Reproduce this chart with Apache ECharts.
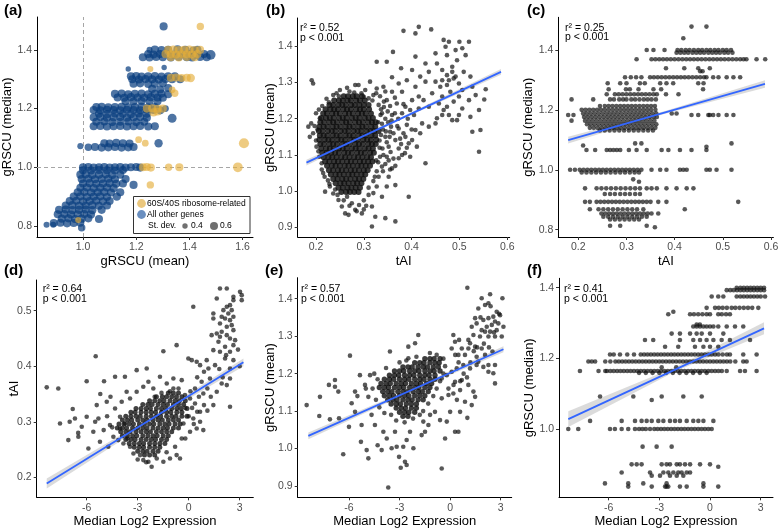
<!DOCTYPE html>
<html><head><meta charset="utf-8">
<script src="https://cdn.jsdelivr.net/npm/echarts@6/dist/echarts.min.js"></script>
<style>html,body{margin:0;padding:0;background:#fff}#c{width:778px;height:530px}</style>
</head><body><div id="c"></div>
<script>
// ---------------- tick labels ----------------
const aXTicks=[1.0,1.2,1.4,1.6], aYTicks=[0.8,1.0,1.2,1.4];
const bXTicks=[0.2,0.3,0.4,0.5,0.6], bYTicks=[0.9,1.0,1.1,1.2,1.3,1.4];
const cXTicks=[0.2,0.3,0.4,0.5,0.6], cYTicks=[0.8,1.0,1.2,1.4];
const exprTicks=[-6,-3,0,3];
const dYTicks=[0.2,0.3,0.4,0.5], eYTicks=[0.9,1.0,1.1,1.2,1.3,1.4], fYTicks=[1.0,1.2,1.4];
const stats=[null,['r² = 0.52','p < 0.001'],['r² = 0.25','p < 0.001'],['r² = 0.64','p < 0.001'],['r² = 0.57','p < 0.001'],['r² = 0.41','p < 0.001']];

// ---------------- panel (a): [mean, median, st.dev] ----------------
const aBlue=[
[1.303,1.48],[1.48,1.383,0.72],
[1.25,1.40,0.45],[1.27,1.401],[1.295,1.399],[1.32,1.40],[1.355,1.402],[1.385,1.40],[1.415,1.398],[1.43,1.40],
[1.245,1.386],[1.265,1.384],[1.29,1.386],[1.315,1.385],[1.34,1.384],[1.37,1.386],[1.40,1.385],[1.425,1.384],[1.455,1.386,0.6],
[1.225,1.375],[1.25,1.374],[1.275,1.376],[1.30,1.375],[1.33,1.374],[1.36,1.376],[1.39,1.375],[1.41,1.374],[1.44,1.376,0.6],[1.465,1.375],
[1.17,1.335,0.4],[1.305,1.34,0.4],
[1.18,1.31],[1.20,1.311],[1.22,1.309],[1.245,1.31],[1.27,1.311],[1.295,1.309],[1.32,1.31],[1.345,1.31],
[1.185,1.30],[1.21,1.299],[1.235,1.301],[1.26,1.30],[1.285,1.299],[1.31,1.301],[1.335,1.30],[1.365,1.30],
[1.19,1.285],[1.215,1.286],[1.245,1.284],[1.27,1.285],[1.30,1.286],
[1.26,1.267],[1.29,1.265],[1.32,1.27,0.6],
[1.12,1.25],[1.145,1.251],[1.17,1.249],[1.195,1.25],[1.22,1.251],[1.245,1.249],[1.27,1.25],[1.295,1.251],[1.32,1.249],
[1.13,1.238],[1.155,1.237],[1.18,1.239],[1.205,1.238],[1.23,1.237],[1.255,1.239],[1.28,1.238],[1.30,1.237],
[1.16,1.225],[1.19,1.224],[1.22,1.226],[1.25,1.225],[1.28,1.225],
[1.05,1.205],[1.07,1.206],[1.095,1.204],[1.12,1.205],[1.145,1.206],[1.17,1.204],[1.195,1.205],[1.22,1.206],[1.245,1.204],[1.27,1.205],
[1.04,1.195],[1.065,1.194],[1.09,1.196],[1.115,1.195],[1.14,1.194],[1.165,1.196],[1.19,1.195],[1.215,1.194],[1.24,1.196],[1.265,1.195],[1.29,1.194],
[1.06,1.182],[1.09,1.181],[1.12,1.183],[1.15,1.182],[1.18,1.181],[1.21,1.183],[1.24,1.182],
[1.04,1.17],[1.065,1.171],[1.09,1.169],[1.115,1.17],[1.14,1.171],[1.165,1.169],[1.19,1.17],[1.215,1.171],[1.24,1.169],
[1.05,1.155],[1.08,1.156],[1.11,1.154],[1.14,1.155],[1.17,1.156],[1.20,1.154],[1.23,1.155],
[1.04,1.14],[1.065,1.141],[1.09,1.139],[1.115,1.14],[1.14,1.141],[1.165,1.139],[1.19,1.14],[1.215,1.141,0.6],[1.245,1.139],[1.27,1.14],
[1.335,1.167,0.66],[1.31,1.20,0.5],
[1.08,1.082],[1.10,1.081],[1.125,1.083],[1.15,1.082],[1.175,1.081],
[1.02,1.068,0.55],[1.045,1.069],[1.07,1.067],[1.095,1.068],[1.12,1.069],[1.145,1.067],[1.17,1.068],[1.19,1.069],
[0.99,1.072,0.45],[1.284,1.082,0.62],
[1.0,1.0],[1.02,1.001],[1.04,0.999],[1.06,1.0],[1.08,1.001],[1.10,0.999],[1.12,1.0],[1.14,1.001],[1.16,0.999],[1.18,1.0],[1.20,1.001],[1.215,0.999],
[1.0,0.99],[1.03,0.989],[1.06,0.991],[1.09,0.99],[1.12,0.989],[1.15,0.991],
[0.99,0.975],[1.01,0.976],[1.035,0.974],[1.06,0.975],[1.085,0.976],[1.11,0.974],[1.14,0.975],
[0.995,0.96],[1.02,0.961],[1.045,0.959],[1.07,0.96],[1.095,0.961],[1.12,0.959],[1.16,0.96],
[1.0,0.945],[1.025,0.946],[1.05,0.944],[1.075,0.945],[1.10,0.946],[1.125,0.944],[1.15,0.945],[1.19,0.94,0.6],
[0.99,0.93],[1.015,0.931],[1.04,0.929],[1.065,0.93],[1.09,0.931],[1.115,0.929],
[0.98,0.915],[1.005,0.916],[1.03,0.914],[1.055,0.915],[1.08,0.916],[1.105,0.914],[1.14,0.915],
[0.965,0.90],[0.99,0.901],[1.015,0.899],[1.04,0.90],[1.065,0.901],[1.09,0.899],[1.127,0.90,0.62],
[0.95,0.885],[0.975,0.886],[1.0,0.884],[1.025,0.885],[1.05,0.886],[1.075,0.884],[1.10,0.885],
[0.935,0.87],[0.96,0.871],[0.985,0.869],[1.01,0.87],[1.035,0.871],[1.06,0.869],[1.09,0.87],
[0.91,0.855],[0.935,0.856],[0.96,0.854],[0.985,0.855],[1.01,0.856],[1.035,0.854],[1.07,0.855],
[0.905,0.84],[0.93,0.841],[0.955,0.839],[0.98,0.84],[1.005,0.841],[1.03,0.839],
[0.92,0.825],[0.945,0.826],[0.97,0.824],[0.995,0.825],[1.02,0.826],[1.06,0.824],
[0.89,0.81],[0.915,0.811],[0.94,0.809],[0.965,0.81],[0.99,0.811],
[0.863,0.804,0.45],[0.888,0.804,0.45],[0.995,0.794,0.55]
];
const aYellow=[
[1.441,1.48,0.55],
[1.32,1.40],[1.34,1.401],[1.36,1.399],[1.38,1.40],[1.40,1.401],[1.42,1.399],[1.44,1.40],
[1.31,1.386],[1.33,1.385],[1.35,1.384],[1.37,1.386],[1.39,1.385],[1.41,1.384],[1.43,1.386],
[1.33,1.375],[1.36,1.374],[1.39,1.376],[1.42,1.375],
[1.253,1.335,0.45],
[1.33,1.305],[1.35,1.306],[1.37,1.304],[1.39,1.305,0.6],[1.405,1.304,0.62],
[1.335,1.264,0.5],[1.345,1.252,0.55],
[1.24,1.20],[1.26,1.201],[1.28,1.199],[1.30,1.20,0.6],[1.265,1.187],[1.28,1.19],
[1.209,1.094,0.5],[1.234,1.082,0.5],[1.605,1.082,0.75],
[1.225,1.0],[1.24,1.001],[1.255,0.999],[1.322,1.0,0.55],[1.362,1.0,0.6],[1.582,1.0,0.72],
[1.253,0.94,0.55],[0.982,0.82,0.45]
];

// ---------------- panel (b): tAI vs gRSCU mean ----------------
const bPts=[
[0.383,1.442],[0.415,1.453],[0.408,1.435],[0.441,1.446],[0.467,1.417],[0.478,1.412],[0.50,1.412],[0.52,1.412],
[0.361,1.384],[0.327,1.357],[0.348,1.357],[0.378,1.339],[0.408,1.371],[0.429,1.352],[0.45,1.38],[0.453,1.352],
[0.471,1.398],[0.474,1.375],[0.492,1.389],[0.495,1.361],[0.506,1.394],[0.513,1.375],[0.485,1.343],[0.464,1.334],
[0.436,1.329],[0.418,1.316],[0.401,1.334],[0.39,1.306],[0.359,1.314],[0.373,1.297],[0.341,1.288],[0.327,1.283],
[0.313,1.302],[0.289,1.293],[0.359,1.274],[0.38,1.274],[0.408,1.288],[0.429,1.302],[0.45,1.302],[0.464,1.306],
[0.474,1.293],[0.488,1.311],[0.499,1.297],[0.509,1.329],[0.523,1.316],[0.527,1.288],[0.534,1.265],[0.555,1.281],
[0.552,1.253],[0.52,1.251],[0.499,1.261],[0.481,1.274],[0.464,1.261],[0.443,1.27],[0.425,1.251],[0.415,1.261],
[0.401,1.251],[0.387,1.233],[0.369,1.242],[0.348,1.251],[0.331,1.238],[0.338,1.215],[0.359,1.21],[0.38,1.215],
[0.397,1.224],[0.415,1.228],[0.436,1.233],[0.457,1.242],[0.467,1.224],[0.478,1.21],[0.485,1.196],[0.495,1.196],
[0.506,1.228],[0.523,1.205],[0.541,1.224],[0.527,1.164],[0.541,1.109],[0.544,1.169],[0.45,1.187],[0.436,1.178],
[0.422,1.187],[0.408,1.169],[0.39,1.183],[0.373,1.173],[0.355,1.164],[0.345,1.15],[0.366,1.141],[0.387,1.15],
[0.401,1.141],[0.418,1.16],[0.352,1.123],[0.373,1.118],[0.394,1.132],[0.334,1.095],[0.348,1.095],[0.373,1.091],
[0.397,1.095],[0.411,1.123],[0.429,1.077],[0.338,1.068],[0.359,1.063],[0.331,1.04],[0.352,1.04],[0.327,1.013],
[0.348,1.013],[0.366,1.017],[0.394,0.985],[0.338,0.985],[0.317,0.958],[0.324,0.93],[0.345,0.926],[0.366,0.917],
[0.317,0.903],[0.296,0.939],[0.282,0.949],[0.268,0.935],[0.261,0.939],[0.275,0.967],[0.254,0.958],[0.247,0.976],
[0.236,0.994],[0.229,1.013],[0.219,0.999],[0.215,1.05],[0.212,1.077],[0.207,1.095],[0.201,1.123],[0.194,1.16],
[0.187,1.15],[0.184,1.178],[0.19,1.187],[0.208,1.201],[0.191,1.306],[0.194,1.297],[0.236,1.265],[0.25,1.279],
[0.282,1.293],[0.303,1.279],[0.31,1.256],[0.474,1.32],[0.485,1.329],[0.492,1.316],[0.478,1.306],[0.46,1.288],
[0.506,1.279],[0.488,1.247],[0.474,1.233],[0.464,1.21],[0.453,1.201],[0.499,1.21],
[0.334,1.262],[0.342,1.247],[0.336,1.226],[0.345,1.2],[0.338,1.186],[0.351,1.19],[0.34,1.17],[0.357,1.178],
[0.336,1.155],[0.348,1.135],[0.339,1.118],[0.356,1.108],[0.33,1.08],[0.345,1.075],[0.327,1.055],[0.32,1.028],
[0.31,0.99],[0.3,0.975],[0.29,0.962],[0.265,0.985],[0.245,0.99],[0.225,1.03],[0.218,1.04],[0.2,1.14],
[0.197,1.18],[0.2,1.215],[0.213,1.235],[0.222,1.255],[0.243,1.27],[0.265,1.285],[0.28,1.272],[0.295,1.27],
[0.32,1.265],[0.372,1.2],[0.383,1.16],[0.362,1.09],[0.378,1.13],[0.386,1.105],[0.355,1.235],[0.365,1.258],
[0.335,1.21],[0.342,1.232],[0.35,1.22],[0.358,1.195],[0.365,1.215],[0.37,1.18],[0.362,1.16],[0.376,1.145],
[0.354,1.15],[0.346,1.165],[0.33,1.19],[0.333,1.14],[0.341,1.1],[0.352,1.085],[0.366,1.07],[0.333,1.12],
[0.326,1.085],[0.34,1.055],[0.355,1.06],[0.323,1.04],[0.31,1.01],[0.32,0.995],[0.305,0.96],[0.285,0.945],
[0.3,0.95],[0.27,0.96],[0.258,0.975],[0.24,1.005],[0.228,1.02],[0.212,1.06],[0.205,1.11],[0.203,1.17],
[0.206,1.225],[0.227,1.245],[0.248,1.262],[0.27,1.275],[0.3,1.26],[0.318,1.25],[0.326,1.27],[0.345,1.275],
[0.392,1.2],[0.405,1.21],[0.383,1.24],[0.4,1.17],[0.39,1.12],[0.38,1.1]
];
const bCore=[
[1.262,[0.258,0.267,0.277,0.285,0.296]],
[1.250,[0.238,0.248,0.256,0.266,0.273,0.284,0.292,0.302]],
[1.238,[0.228,0.236,0.247,0.255,0.263,0.274,0.281,0.291,0.300,0.310]],
[1.226,[0.220,0.230,0.238,0.246,0.257,0.265,0.273,0.284,0.292,0.300,0.311]],
[1.214,[0.215,0.223,0.234,0.242,0.250,0.261,0.269,0.277,0.288,0.296,0.304,0.315]],
[1.202,[0.211,0.221,0.229,0.237,0.248,0.256,0.264,0.275,0.283,0.291,0.302,0.310,0.319]],
[1.190,[0.209,0.217,0.228,0.236,0.244,0.255,0.263,0.271,0.282,0.290,0.298,0.309,0.317,0.325]],
[1.178,[0.207,0.216,0.224,0.235,0.243,0.251,0.262,0.270,0.278,0.289,0.297,0.305,0.316,0.324]],
[1.166,[0.206,0.214,0.225,0.233,0.241,0.252,0.260,0.268,0.279,0.287,0.295,0.306,0.314,0.322,0.331]],
[1.154,[0.208,0.216,0.224,0.235,0.243,0.251,0.262,0.270,0.278,0.289,0.297,0.305,0.316,0.324]],
[1.142,[0.207,0.218,0.226,0.234,0.245,0.253,0.261,0.272,0.280,0.288,0.299,0.307,0.315,0.326]],
[1.130,[0.209,0.217,0.228,0.236,0.244,0.255,0.263,0.271,0.282,0.290,0.298,0.309,0.317,0.325]],
[1.118,[0.211,0.221,0.229,0.237,0.248,0.256,0.264,0.275,0.283,0.291,0.302,0.310,0.319]],
[1.106,[0.213,0.222,0.232,0.240,0.248,0.259,0.267,0.275,0.286,0.294,0.302,0.313,0.321]],
[1.094,[0.216,0.226,0.234,0.243,0.253,0.261,0.270,0.280,0.288,0.297,0.307,0.315]],
[1.082,[0.219,0.228,0.238,0.246,0.255,0.265,0.273,0.282,0.292,0.300,0.309,0.318]],
[1.070,[0.223,0.233,0.241,0.250,0.260,0.268,0.277,0.287,0.295,0.304,0.313]],
[1.058,[0.227,0.236,0.246,0.254,0.263,0.273,0.281,0.290,0.300,0.308]],
[1.046,[0.231,0.241,0.249,0.258,0.268,0.276,0.285,0.295,0.303]],
[1.034,[0.236,0.245,0.255,0.263,0.272,0.282,0.290,0.299]],
[1.022,[0.241,0.251,0.259,0.268,0.278,0.286,0.295]],
[1.010,[0.247,0.256,0.266,0.274,0.283,0.292]],
[0.998,[0.253,0.263,0.271,0.280,0.289]]
];

// ---------------- panel (c): tAI vs gRSCU median ----------------
const cRows=[
[1.478,[0.435,0.466]],
[1.439,[0.418]],
[1.400,[0.342,0.356,0.379,0.406,0.414,0.423,0.431,0.44,0.449,0.457,0.466,0.474,0.483,0.491,0.50,0.508,0.517]],
[1.391,[0.404,0.412,0.42,0.428,0.437,0.445,0.453,0.461,0.47,0.478,0.486,0.494,0.503,0.511,0.52]],
[1.369,[0.321,0.352,0.36,0.368,0.376,0.384,0.392,0.40,0.408,0.416,0.424,0.432,0.44,0.448,0.456,0.464,0.472,0.48,0.488,0.496,0.504,0.512,0.52,0.528,0.536,0.543,0.549,0.57,0.588]],
[1.339,[0.382,0.42,0.449,0.473]],
[1.329,[0.453,0.458]],
[1.309,[0.297,0.309,0.32,0.331,0.349,0.357,0.365,0.373,0.381,0.389,0.397,0.405,0.413,0.421,0.429,0.437,0.445,0.453,0.461,0.466,0.48,0.491,0.508,0.522,0.536]],
[1.289,[0.261,0.287,0.30,0.328,0.338,0.37,0.383,0.397,0.449,0.46]],
[1.269,[0.263,0.299,0.307,0.325,0.356,0.372,0.459]],
[1.252,[0.259,0.276,0.284,0.292,0.30,0.308,0.316,0.324,0.332,0.34,0.348,0.356,0.363,0.382,0.408]],
[1.235,[0.186,0.231,0.266,0.274,0.285,0.293,0.30,0.31,0.318,0.327,0.336,0.344,0.352,0.361]],
[1.213,[0.245,0.255,0.263,0.271,0.279,0.287,0.295,0.303,0.311,0.319,0.327,0.335,0.343,0.351,0.359]],
[1.200,[0.207,0.215,0.223,0.231,0.239,0.247,0.255,0.263,0.271,0.279,0.287,0.295,0.303,0.311,0.319,0.327,0.335,0.343,0.351,0.36]],
[1.188,[0.21,0.218,0.226,0.234,0.242,0.25,0.258,0.266,0.274,0.282,0.29,0.298,0.306,0.314,0.322,0.33,0.338,0.346,0.354,0.362,0.394,0.404]],
[1.183,[0.179,0.19,0.435,0.449,0.47,0.473,0.48,0.491,0.508,0.522]],
[1.176,[0.212,0.22,0.228,0.236,0.244,0.252,0.26,0.268,0.276,0.284,0.292,0.30,0.308,0.316,0.324,0.332,0.34,0.348,0.356,0.363]],
[1.164,[0.186,0.214,0.222,0.23,0.238,0.246,0.254,0.262,0.27,0.278,0.286,0.294,0.302,0.31,0.318,0.326,0.334,0.342,0.35,0.358]],
[1.152,[0.218,0.226,0.234,0.242,0.25,0.258,0.266,0.274,0.282,0.29,0.298,0.306,0.314,0.322,0.33,0.338,0.346,0.354,0.362]],
[1.140,[0.224,0.232,0.24,0.248,0.256,0.264,0.272,0.28,0.288,0.296,0.304,0.312,0.32,0.328,0.336,0.344,0.352,0.36]],
[1.131,[0.245,0.255,0.265,0.275,0.285,0.295,0.305,0.315,0.325,0.335,0.345,0.355]],
[1.088,[0.318,0.331,0.518]],
[1.081,[0.21]],
[1.077,[0.466]],
[1.066,[0.217,0.235,0.259,0.266,0.273,0.28,0.287,0.305,0.321,0.342,0.373,0.387,0.411,0.435,0.466]],
[1.000,[0.183,0.193,0.203,0.211,0.219,0.227,0.235,0.243,0.251,0.259,0.267,0.275,0.283,0.291,0.299,0.307,0.315,0.323,0.331,0.352,0.37,0.383,0.411,0.418,0.425,0.466,0.473,0.487,0.518]],
[0.991,[0.207,0.217,0.227,0.237,0.247,0.257,0.267,0.277,0.287,0.297,0.307,0.317,0.326]],
[0.968,[0.314]],
[0.960,[0.326]],
[0.938,[0.214,0.238,0.248,0.258,0.268,0.278,0.288,0.298,0.308,0.318,0.328,0.342,0.352,0.363,0.383,0.404,0.425,0.439]],
[0.919,[0.255,0.266,0.276,0.287,0.297,0.307,0.318,0.328]],
[0.893,[0.214,0.224,0.238,0.246,0.254,0.262,0.27,0.278,0.286,0.294,0.302,0.31,0.318,0.326,0.334,0.342,0.35,0.366,0.383,0.532]],
[0.868,[0.224,0.242,0.252,0.262,0.272,0.282,0.292,0.302,0.312,0.322,0.335,0.421]],
[0.854,[0.248,0.256,0.264,0.272,0.28,0.288,0.296,0.304,0.312,0.32,0.328,0.336,0.344,0.352,0.366]],
[0.843,[0.252,0.262,0.272,0.282,0.292,0.302,0.312,0.322,0.332,0.342]],
[0.834,[0.266,0.276,0.286,0.296,0.306,0.316,0.326]],
[0.813,[0.266,0.287,0.342]],
[0.808,[0.359]]
];

// ---------------- panel (d): expression vs tAI ----------------
const dPts=[
[-8.35,0.362],[-7.67,0.36],[-7.57,0.297],[-7.08,0.267],[-6.82,0.323],[-6.69,0.306],[-6.49,0.273],[-6.0,0.373],[-6.0,0.309],[-6.29,0.291],
[-5.9,0.252],[-5.61,0.282],[-5.47,0.418],[-5.41,0.33],[-5.31,0.306],[-5.22,0.264],[-4.98,0.373],[-4.82,0.336],[-4.73,0.255],[-4.63,0.294],
[-4.33,0.381],[-4.33,0.324],[-3.75,0.381],[-3.65,0.354],[-3.06,0.393],[-2.47,0.396],[-2.37,0.372],[-1.49,0.427],[-0.71,0.438],[-1.69,0.381],
[-0.9,0.378],[-0.41,0.375],[0.27,0.507],[-0.02,0.414],[0.18,0.411],[0.47,0.408],[0.67,0.402],[1.06,0.411],[1.16,0.396],[1.55,0.402],
[1.25,0.378],[0.76,0.372],[0.37,0.36],[0.86,0.351],[1.45,0.429],[1.75,0.444],[1.84,0.426],[2.14,0.414],[2.43,0.396],[2.63,0.411],
[1.94,0.369],[2.24,0.366],[2.43,0.327],[2.43,0.378],[1.65,0.354],[1.45,0.33],[0.67,0.318],[0.67,0.3],[0.86,0.285],[0.47,0.288],
[0.08,0.282],[0.27,0.306],[-0.31,0.297],[-0.41,0.27],[-0.51,0.234],[-0.71,0.24],[-1.1,0.234],[-1.49,0.228],[-1.88,0.234],[-2.18,0.219],
[-2.37,0.228],[-2.67,0.231],[-2.86,0.24],[-3.25,0.243],[-3.45,0.255],[-3.84,0.261],[-4.14,0.267],[-4.43,0.273],[-4.04,0.288],[-3.75,0.297],
[-4.04,0.309],[-3.94,0.336],[-3.45,0.342],[-3.06,0.354],[-2.67,0.363],[-2.08,0.36],[-1.29,0.369],[-0.9,0.36],[-0.22,0.348],[0.08,0.342],[0.37,0.333],
[1.84,0.54],[2.24,0.54],[2.63,0.525],[3.02,0.534],[3.12,0.528],[3.12,0.519],[2.63,0.519],[2.43,0.51],[2.24,0.507],[2.04,0.501],
[2.33,0.495],[2.53,0.501],[1.94,0.489],[2.14,0.486],[2.43,0.483],[2.63,0.489],[1.84,0.477],[2.24,0.471],[2.53,0.474],[1.45,0.495],
[1.45,0.486],[1.35,0.456],[1.65,0.459],[1.94,0.462],[2.24,0.456],[1.84,0.453],[2.43,0.45],[2.63,0.465],[2.73,0.447],[2.14,0.435],
[2.63,0.438],[2.43,0.426],[1.65,0.522],
[0.5,0.38],[0.9,0.39],[1.1,0.36],[1.3,0.345],[0.2,0.325],[0.5,0.318],[0.9,0.33],[1.1,0.32],[0.3,0.296],[0.0,0.31],
[-0.2,0.325],[0.1,0.355],[-0.6,0.36],[-1.1,0.355],[-1.6,0.352],[-2.0,0.345],[0.6,0.345],[1.8,0.395],[2.0,0.38],[2.2,0.42],
[2.9,0.43],[3.0,0.40],[-0.2,0.27],[-0.8,0.255],[-1.3,0.245],[-2.5,0.227],[-3.0,0.232],[-3.6,0.27],[-4.5,0.29],[-4.8,0.31],
[-5.0,0.285],[-5.5,0.3],[-4.6,0.345],[-5.2,0.35],[-6.5,0.28],[-7.0,0.3]
];
const dCore=[
[0.352,[-1.2,-0.9,-0.6]],
[0.345,[-1.9,-1.55,-1.3,-1.0,-0.72,-0.4]],
[0.338,[-2.3,-2.0,-1.7,-1.45,-1.1,-0.8,-0.55,-0.2]],
[0.331,[-2.7,-2.4,-2.15,-1.8,-1.5,-1.25,-0.9,-0.6,-0.3]],
[0.324,[-3.1,-2.8,-2.5,-2.25,-1.9,-1.6,-1.35,-1.0,-0.7,-0.45,-0.1]],
[0.317,[-3.4,-3.15,-2.8,-2.5,-2.2,-1.95,-1.6,-1.3,-1.05,-0.7,-0.4]],
[0.310,[-3.7,-3.4,-3.1,-2.85,-2.5,-2.2,-1.9,-1.65,-1.3,-1.0,-0.75,-0.4,-0.1]],
[0.303,[-3.9,-3.6,-3.35,-3.0,-2.7,-2.45,-2.1,-1.8,-1.55,-1.2,-0.9,-0.6]],
[0.296,[-4.1,-3.8,-3.5,-3.25,-2.9,-2.6,-2.3,-2.05,-1.7,-1.4,-1.15,-0.8,-0.5]],
[0.289,[-4.2,-3.9,-3.65,-3.3,-3.0,-2.7,-2.45,-2.1,-1.8,-1.5,-1.25,-0.9,-0.6]],
[0.282,[-4.0,-3.7,-3.45,-3.1,-2.8,-2.5,-2.25,-1.9,-1.6,-1.3,-1.0]],
[0.275,[-3.9,-3.6,-3.3,-3.05,-2.7,-2.4,-2.1,-1.85,-1.5,-1.2]],
[0.268,[-3.7,-3.4,-3.15,-2.8,-2.5,-2.2,-1.95,-1.6,-1.3]],
[0.261,[-3.5,-3.2,-2.9,-2.65,-2.3,-2.0,-1.7,-1.4]],
[0.254,[-3.2,-2.9,-2.65,-2.3,-2.0,-1.7]],
[0.247,[-3.0,-2.7,-2.45,-2.1,-1.8]],
[0.240,[-2.6,-2.3,-2.0]]
];

// ---------------- panel (e): expression vs gRSCU mean ----------------
const ePts=[
[-8.51,1.116],[-7.76,1.087],[-7.72,1.138],[-7.19,1.17],[-7.13,1.078],[-6.83,1.183],[-6.83,1.165],[-6.63,1.152],[-6.59,1.081],[-6.34,0.985],
[-6.0,1.058],[-5.94,1.248],[-5.84,1.121],[-5.64,1.152],[-5.64,1.098],[-5.35,1.196],[-5.29,1.018],[-5.25,1.063],[-5.05,1.17],[-4.95,0.996],
[-4.85,1.138],[-4.85,0.974],[-4.75,1.196],[-4.66,1.09],[-4.46,1.063],[-4.30,1.009],[-4.06,0.996],[-3.96,1.045],[-3.76,1.027],[-3.67,0.896],
[-3.57,1.259],[-3.47,1.001],[-3.27,1.045],[-3.17,1.005],[-3.03,0.978],[-2.93,0.949],[-2.78,1.005],[-2.68,0.965],[-2.58,0.956],[-2.58,1.023],
[-2.48,1.241],[-2.48,1.272],[-2.38,1.045],[-2.18,1.001],[-2.08,1.281],[-1.89,1.303],[-1.69,1.036],[-1.59,1.072],[-1.49,1.045],[-1.29,1.063],
[-1.19,1.09],[-0.9,1.098],[-0.6,1.076],[-0.5,0.947],[-0.3,1.027],[-0.2,1.072],[0.0,1.098],[0.29,1.045],[0.49,1.045],[0.59,1.098],
[0.88,1.125],[1.02,1.082],[1.28,1.116],[1.38,1.152],[1.48,1.138],[0.19,1.303],[0.09,1.267],[0.29,1.285],[0.53,1.29],[0.69,1.267],
[0.49,1.25],[0.88,1.25],[1.08,1.267],[1.18,1.281],[1.48,1.272],[1.57,1.245],[1.67,1.232],[1.97,1.218],[2.27,1.205],[2.56,1.201],
[1.87,1.267],[2.07,1.25],[1.57,1.223],[1.18,1.214],[0.78,1.223],[0.39,1.214],[0.09,1.205],[-0.2,1.196],[-0.5,1.187],[0.29,1.178],
[0.69,1.183],[1.08,1.17],[0.59,1.156],[0.19,1.147],[-0.1,1.143],[-0.5,1.134],
[1.02,1.429],[1.87,1.401],[2.37,1.412],[3.10,1.401],[2.27,1.388],[2.07,1.383],[1.67,1.374],[1.48,1.348],[1.57,1.334],[1.97,1.343],
[2.27,1.348],[2.56,1.352],[2.66,1.339],[2.96,1.356],[2.86,1.334],[2.47,1.33],[2.17,1.325],[1.87,1.316],[2.37,1.312],[2.76,1.316],
[3.06,1.299],[3.16,1.325],[2.66,1.299],[2.27,1.299],[2.07,1.312],[1.77,1.299],[1.28,1.325],[1.08,1.29],[1.38,1.303],[2.51,1.259],
[2.66,1.223],[2.66,1.174],[2.27,1.223],[2.76,1.365],
[-4.5,1.2],[-4.6,1.16],[-4.4,1.13],[-4.2,1.11],[-3.9,1.095],[-3.5,1.09],[-3.2,1.075],[-2.7,1.07],[-2.2,1.08],[-1.8,1.09],
[-1.6,1.1],[-1.3,1.12],[-1.0,1.14],[-0.8,1.16],[-0.6,1.18],[-0.4,1.2],[-0.3,1.22],[-0.4,1.24],[-0.8,1.25],[-1.2,1.255],
[-2.0,1.245],[-2.6,1.235],[-3.0,1.23],[-3.8,1.215],[-4.3,1.185],[-5.0,1.16],[-5.5,1.14],[0.3,1.25],[0.5,1.23],[0.8,1.2],
[1.0,1.19],[-0.1,1.16],[0.2,1.17],[0.4,1.13],[0.6,1.18],[1.2,1.23],[1.4,1.26],[1.6,1.27],[2.0,1.28],[2.3,1.27],
[2.6,1.31],[2.9,1.36],[2.4,1.38],[1.8,1.35]
];
const eCore=[
[1.240,[-1.5,-1.2,-0.95,-0.6]],
[1.229,[-2.1,-1.8,-1.55,-1.2,-0.9,-0.65]],
[1.218,[-2.8,-2.5,-2.25,-1.9,-1.6,-1.35,-1.0,-0.7]],
[1.207,[-3.3,-3.0,-2.75,-2.4,-2.1,-1.85,-1.5,-1.2,-0.95,-0.6]],
[1.196,[-3.6,-3.3,-3.05,-2.7,-2.4,-2.15,-1.8,-1.5,-1.25,-0.9]],
[1.185,[-3.9,-3.6,-3.35,-3.0,-2.7,-2.45,-2.1,-1.8,-1.55,-1.2,-0.9]],
[1.174,[-4.1,-3.8,-3.55,-3.2,-2.9,-2.65,-2.3,-2.0,-1.75,-1.4,-1.1]],
[1.163,[-4.2,-3.9,-3.65,-3.3,-3.0,-2.75,-2.4,-2.1,-1.85,-1.5,-1.2]],
[1.152,[-4.0,-3.7,-3.45,-3.1,-2.8,-2.55,-2.2,-1.9,-1.65,-1.3]],
[1.141,[-3.9,-3.6,-3.35,-3.0,-2.7,-2.45,-2.1,-1.8,-1.5]],
[1.130,[-3.7,-3.4,-3.15,-2.8,-2.5,-2.25,-1.9,-1.6]],
[1.119,[-3.5,-3.2,-2.95,-2.6,-2.3,-2.0]],
[1.108,[-3.2,-2.9,-2.65,-2.3,-2.0]],
[1.097,[-3.0,-2.7,-2.45,-2.1]],
[1.086,[-2.8,-2.5]]
];

// ---------------- panel (f): expression vs gRSCU median ----------------
const fRows=[
[1.400,[1.58,1.8,2.0,2.2,2.4,2.6,2.8,3.0,3.2]],
[1.393,[0.99,1.2,1.4,1.6,1.8,2.0,2.2,2.4,2.6,2.8,3.0,3.2]],
[1.375,[0.1,0.49,0.79,1.58,1.8,2.0,2.2,2.4,2.6,2.8,3.0,3.26]],
[1.343,[-0.2,0.3,0.52,0.75,1.0,1.28,1.5,1.75,2.0,2.25,2.5,2.86]],
[1.332,[-2.17]],
[1.325,[-2.47,-1.18,-0.95,-0.7,-0.45,-0.2,0.0,0.49,0.7,0.95,1.18]],
[1.296,[-0.79,-0.6]],
[1.290,[-0.99,-0.79,-0.59,-0.39,-0.2,0.0,0.2,0.49,0.99,1.48,1.97]],
[1.270,[-2.27,-1.78,-1.18,-0.79,-0.49,0.0,0.79]],
[1.252,[-3.85,-3.36,-1.78,-0.99,-0.59,-0.2,0.2,0.69,1.18,2.37]],
[1.233,[-2.66,-1.88,-0.89,-0.39,0.0,0.49]],
[1.211,[-5.92,-5.7,-5.33,-4.9,-4.5,-4.1,-3.9,-3.7,-3.5,-3.3,-3.1,-2.9,-2.7,-2.5,-2.3,-2.1,-1.9,-1.7,-1.5,-1.3,-1.1,-0.9,-0.7,-0.5,-0.3,-0.1,0.1,0.3,0.5,0.75,1.0,1.18,1.97,2.76]],
[1.191,[-7.2,-7.0,-6.8,-6.2,-5.9,-5.6,-5.4,-5.2,-5.0,-4.8,-4.6,-4.4,-4.2,-4.0,-3.8,-3.6,-3.4,-3.2,-3.0,-2.8,-2.6,-2.4,-2.2,-2.0,-1.8,-1.6,-1.4,-1.2,-1.0,-0.8,-0.6,-0.4,-0.2,0.0,0.2,0.4,0.6,0.8,1.0,1.2,1.5,1.97,2.17]],
[1.175,[-2.86,-2.0]],
[1.164,[-7.7,-6.6,-6.2,-6.1,-5.9,-5.7,-5.5,-5.3,-5.1,-4.9,-4.7,-4.5,-4.3,-4.1,-3.9,-3.7,-3.5,-3.3,-3.1,-2.9,-2.7,-2.5,-2.3,-2.1,-1.9,-1.7,-1.5,-1.3,-1.1,-0.9,-0.7,-0.5,-0.3,-0.1,0.1,0.3,0.5,0.7,0.99,1.78,2.07,2.76]],
[1.159,[-4.2,-3.8,-3.4,-3.0,-2.6,-2.2,-1.8,-1.4,-1.0,-0.6,-0.2]],
[1.092,[-6.51,-4.54,-2.86,-1.58,-0.49]],
[1.082,[-3.45]],
[1.023,[-7.1,-5.23,-4.44,-4.05,-3.75,-3.45,-3.06,-2.76,-2.37,-2.07,-1.78,-1.38,-0.99,-0.69,-0.39,0.2]],
[1.000,[-8.39,-7.8,-5.92,-5.63,-5.23,-4.84,-4.44,-4.2,-4.0,-3.8,-3.55,-3.3,-3.1,-2.9,-2.7,-2.5,-2.3,-2.1,-1.9,-1.7,-1.5,-1.3,-1.1,-0.9,-0.7,-0.5,-0.3,-0.1,0.1]],
[0.950,[-3.99,-3.16,-2.27]],
[0.900,[-4.64,-4.34,-4.05,-2.86,-2.57,-2.37,-1.97,-1.78,-1.48,-1.18,-0.59,0.0]],
[0.893,[0.49]],
[0.877,[-5.23,-3.55,-2.76,-2.47,-2.17,-1.88,-1.68,-1.38,-1.18]],
[0.868,[-3.45,-2.96,-2.37,-1.97,-1.58]],
[0.846,[-6.22,-4.84,-3.95,-2.57,-0.39]],
[0.837,[-4.84,-3.45,-2.66,-2.57,-2.47,-1.78,-1.38,-0.39,0.49]]
];

// ---------------- fitted lines and 95% bands ----------------
const bFitX=[0.18,0.587], bFitY=[1.079,1.329];
const bBandX=[0.18,0.38,0.587], bBandLo=[1.071,1.199,1.321], bBandHi=[1.087,1.205,1.337];
const cFitX=[0.179,0.5875], cFitY=[1.099,1.2865];
const cBandX=[0.179,0.38,0.5875], cBandLo=[1.088,1.187,1.274], cBandHi=[1.110,1.196,1.299];
const dFitX=[-8.35,3.22], dFitY=[0.189,0.407];
const dBandX=[-8.35,-2,3.22], dBandLo=[0.180,0.3048,0.400], dBandHi=[0.198,0.3124,0.414];
const eFitX=[-8.41,3.16], eFitY=[1.034,1.265];
const eBandX=[-8.41,-2,3.16], eBandLo=[1.025,1.158,1.257], eBandHi=[1.043,1.166,1.273];
const fFitX=[-8.39,3.2], fFitY=[1.028,1.285];
const fBandX=[-8.39,-2,3.2], fBandLo=[1.006,1.164,1.268], fBandHi=[1.050,1.176,1.302];

// ---------------- build ----------------
const FONT='"Liberation Sans", Arial, Helvetica, sans-serif';
function rowsToPts(rows){const o=[];rows.forEach(r=>r[1].forEach(x=>o.push([x,r[0]])));return o;}
function zip(xs,ys){return xs.map((x,i)=>[x,ys[i]]);}

const panels=[
 {g:{left:37,top:17,width:216,height:220},xr:[0.827,1.639],yr:[0.7625,1.512],xt:aXTicks,yt:aYTicks,xd:1,xn:'gRSCU (mean)',yn:'gRSCU (median)',yg:23},
 {g:{left:297.7,top:18,width:212,height:219},xr:[0.1617,0.6052],yr:[0.874,1.4774],xt:bXTicks,yt:bYTicks,xd:1,xn:'tAI',yn:'gRSCU (mean)',yg:21,
   pts:bPts,core:rowsToPts(bCore),cs:6,co:0.82,fit:[bFitX,bFitY],band:[bBandX,bBandLo,bBandHi]},
 {g:{left:558.3,top:17.3,width:215.1,height:219.7},xr:[0.1585,0.605],yr:[0.7756,1.509],xt:cXTicks,yt:cYTicks,xd:1,xn:'tAI',yn:'gRSCU (median)',yg:23,
   pts:rowsToPts(cRows),fit:[cFitX,cFitY],band:[cBandX,cBandLo,cBandHi]},
 {g:{left:36.7,top:280,width:216.6,height:217.3},xr:[-8.94,3.8],yr:[0.164,0.5553],xt:exprTicks,yt:dYTicks,xd:0,xn:'Median Log2 Expression',yn:'tAI',yg:16,
   pts:dPts,core:rowsToPts(dCore),cs:5.0,co:0.78,fit:[dFitX,dFitY],band:[dBandX,dBandLo,dBandHi]},
 {g:{left:297.7,top:277.7,width:214,height:219.6},xr:[-9.04,3.65],yr:[0.870,1.456],xt:exprTicks,yt:eYTicks,xd:0,xn:'Median Log2 Expression',yn:'gRSCU (mean)',yg:21,
   pts:ePts,core:rowsToPts(eCore),cs:5.4,co:0.8,fit:[eFitX,eFitY],band:[eBandX,eBandLo,eBandHi]},
 {g:{left:559,top:278.3,width:214,height:219},xr:[-8.94,3.73],yr:[0.8067,1.4266],xt:exprTicks,yt:fYTicks,xd:0,xn:'Median Log2 Expression',yn:'gRSCU (median)',yg:23,
   pts:rowsToPts(fRows),fit:[fFitX,fFitY],band:[fBandX,fBandLo,fBandHi]}
];

const grid=[],xAxis=[],yAxis=[],series=[],graphic=[];
panels.forEach((p,i)=>{
  grid.push(Object.assign({containLabel:false,outerBoundsMode:'none'},p.g));
  const lab=(ticks,dec,margin)=>({customValues:ticks,formatter:v=>Number(v).toFixed(dec),fontSize:10.5,color:'#4d4d4d',fontFamily:FONT,margin:margin,hideOverlap:false});
  const common={type:'value',gridIndex:i,splitLine:{show:false},nameMoveOverlap:false,
    axisLine:{show:true,onZero:false,lineStyle:{color:'#000',width:1}},
    nameLocation:'middle',nameTextStyle:{fontSize:13,color:'#000',fontFamily:FONT}};
  xAxis.push(Object.assign({},common,{min:p.xr[0],max:p.xr[1],name:p.xn,nameGap:18,
    axisTick:{show:true,length:3,lineStyle:{color:'#333'},customValues:p.xt},axisLabel:lab(p.xt,p.xd,5)}));
  yAxis.push(Object.assign({},common,{min:p.yr[0],max:p.yr[1],name:p.yn,nameGap:p.yg,
    axisTick:{show:true,length:3,lineStyle:{color:'#333'},customValues:p.yt},axisLabel:lab(p.yt,1,5)}));
  if(p.band){
    const [bx,lo,hi]=p.band;
    series.push({type:'custom',xAxisIndex:i,yAxisIndex:i,z:1,silent:true,data:[[bx[0],lo[0]]],
      renderItem:(params,api)=>{
        const pts=[];
        for(let k=0;k<bx.length;k++)pts.push(api.coord([bx[k],hi[k]]));
        for(let k=bx.length-1;k>=0;k--)pts.push(api.coord([bx[k],lo[k]]));
        return {type:'polygon',shape:{points:pts},style:{fill:'rgba(160,160,160,0.38)'}};
      }});
    if(p.core){
      series.push({type:'scatter',xAxisIndex:i,yAxisIndex:i,z:2,data:p.core,symbolSize:p.cs,
        itemStyle:{color:'#0d0d0d',opacity:p.co},silent:true});
    }
    series.push({type:'scatter',xAxisIndex:i,yAxisIndex:i,z:2,data:p.pts,symbolSize:4.6,
      itemStyle:{color:'#111',opacity:0.7},silent:true});
    series.push({type:'line',xAxisIndex:i,yAxisIndex:i,z:3,data:zip(p.fit[0],p.fit[1]),symbol:'none',
      lineStyle:{color:'#3366ff',width:1.8},silent:true});
  }
});
// panel (a)
const sdSize=d=>(d[2]||0.6)*13.5;
series.push({type:'scatter',xAxisIndex:0,yAxisIndex:0,data:[],z:1,
  markLine:{silent:true,symbol:'none',z:1,label:{show:false},lineStyle:{color:'#a6a6a6',type:[4,3],width:1},
    data:[{xAxis:1.0},{yAxis:1.0}]}});
series.push({type:'scatter',xAxisIndex:0,yAxisIndex:0,z:2,data:aBlue,symbolSize:sdSize,
  itemStyle:{color:'#0a3f80',opacity:0.72},silent:true});
series.push({type:'scatter',xAxisIndex:0,yAxisIndex:0,z:3,data:aYellow,symbolSize:sdSize,
  itemStyle:{color:'#e4ad3a',opacity:0.64},silent:true});

// panel letters
[['(a)',4,3],['(b)',266,3],['(c)',527,3],['(d)',4,263],['(e)',265,263],['(f)',527,263]].forEach(l=>{
  graphic.push({type:'text',x:l[1],y:l[2],z:100,style:{text:l[0],fill:'#000',font:'bold 15px '+FONT,verticalAlign:'top'}});
});
// statistics
[[1,300,28.5],[2,565,28],[3,42.7,289.5],[4,301,289.5],[5,564,289.5]].forEach(s=>{
  const t=stats[s[0]];
  graphic.push({type:'text',x:s[1],y:s[2],z:100,style:{text:t[0],fill:'#000',font:'10.5px '+FONT,verticalAlign:'middle'}});
  graphic.push({type:'text',x:s[1],y:s[2]+9.5,z:100,style:{text:t[1],fill:'#000',font:'10.5px '+FONT,verticalAlign:'middle'}});
});
// legend of (a)
graphic.push({type:'rect',z:100,shape:{x:133.5,y:196.5,width:116.5,height:37},style:{fill:'#fff',stroke:'#333',lineWidth:1}});
graphic.push({type:'circle',z:101,shape:{cx:141.5,cy:203.5,r:4.4},style:{fill:'#ebc77d'}});
graphic.push({type:'circle',z:101,shape:{cx:141.5,cy:214.5,r:4.4},style:{fill:'#6a8fc0'}});
graphic.push({type:'text',z:101,x:147,y:203.5,style:{text:'60S/40S ribosome-related',fill:'#000',font:'8.5px '+FONT,verticalAlign:'middle'}});
graphic.push({type:'text',z:101,x:147,y:214.5,style:{text:'All other genes',fill:'#000',font:'8.5px '+FONT,verticalAlign:'middle'}});
graphic.push({type:'text',z:101,x:148,y:226,style:{text:'St. dev.',fill:'#000',font:'8.5px '+FONT,verticalAlign:'middle'}});
graphic.push({type:'circle',z:101,shape:{cx:185,cy:226,r:2.7},style:{fill:'#707070'}});
graphic.push({type:'text',z:101,x:191,y:226,style:{text:'0.4',fill:'#000',font:'8.5px '+FONT,verticalAlign:'middle'}});
graphic.push({type:'circle',z:101,shape:{cx:214,cy:226,r:4},style:{fill:'#707070'}});
graphic.push({type:'text',z:101,x:220,y:226,style:{text:'0.6',fill:'#000',font:'8.5px '+FONT,verticalAlign:'middle'}});

const chart=echarts.init(document.getElementById('c'),null,{renderer:'canvas'});
chart.setOption({animation:false,backgroundColor:'#fff',grid,xAxis,yAxis,series,graphic});
</script></body></html>
